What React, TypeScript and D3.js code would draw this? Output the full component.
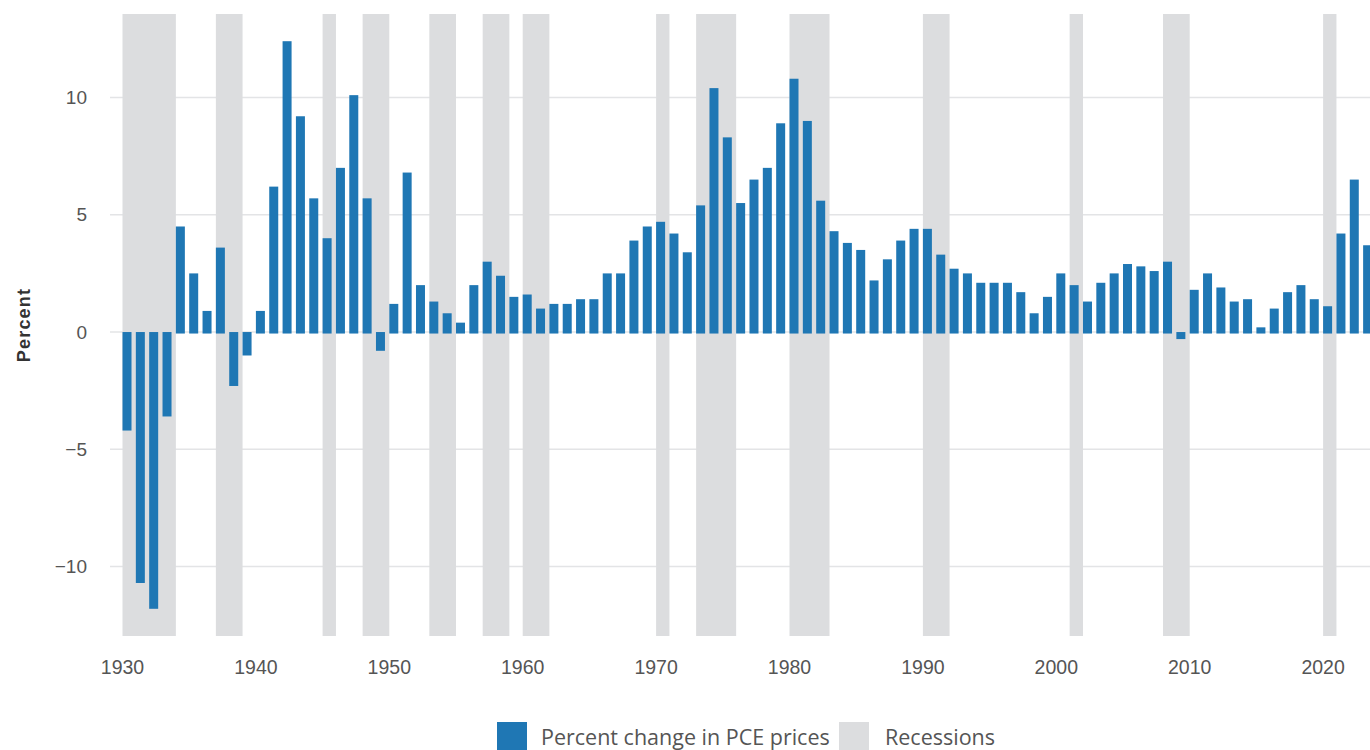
import React from "react";
import * as d3 from "d3";

const years: number[] = d3.range(1930, 2024);
const pceChange: number[] = [
  -4.2, -10.7, -11.8, -3.6, 4.5, 2.5, 0.9, 3.6, -2.3, -1.0,
  0.9, 6.2, 12.4, 9.2, 5.7, 4.0, 7.0, 10.1, 5.7, -0.8,
  1.2, 6.8, 2.0, 1.3, 0.8, 0.4, 2.0, 3.0, 2.4, 1.5,
  1.6, 1.0, 1.2, 1.2, 1.4, 1.4, 2.5, 2.5, 3.9, 4.5,
  4.7, 4.2, 3.4, 5.4, 10.4, 8.3, 5.5, 6.5, 7.0, 8.9,
  10.8, 9.0, 5.6, 4.3, 3.8, 3.5, 2.2, 3.1, 3.9, 4.4,
  4.4, 3.3, 2.7, 2.5, 2.1, 2.1, 2.1, 1.7, 0.8, 1.5,
  2.5, 2.0, 1.3, 2.1, 2.5, 2.9, 2.8, 2.6, 3.0, -0.3,
  1.8, 2.5, 1.9, 1.3, 1.4, 0.2, 1.0, 1.7, 2.0, 1.4,
  1.1, 4.2, 6.5, 3.7,
];
const recessionStart: number[] = [1930, 1937, 1945, 1948, 1953, 1957, 1960, 1970, 1973, 1980, 1990, 2001, 2008, 2020];
const recessionEnd: number[] = [1934, 1939, 1946, 1950, 1955, 1959, 1962, 1971, 1976, 1983, 1992, 2002, 2010, 2021];
const xTicks: number[] = d3.range(1930, 2021, 10);
const yTicks: number[] = [-10, -5, 0, 5, 10];
const yTitle = "Percent";
const legendLabels: string[] = ["Percent change in PCE prices", "Recessions"];

const W = 1370;
const H = 750;
const BLUE = "#1f77b4";
const GREY = "#dcdddf";

export default function App() {
  const x = d3.scaleLinear().domain([1930, 2020]).range([122.5, 1323.1]);
  const y = d3.scaleLinear().domain([-12.96, 13.56]).range([636, 14]);
  const barW = 9;
  const y0 = y(0);

  return (
    <svg
      width={W}
      height={H}
      viewBox={`0 0 ${W} ${H}`}
      style={{ position: "absolute", left: 0, top: 0, background: "#fff" }}
    >
      {/* gridlines */}
      {yTicks.map((t) => (
        <line key={"g" + t} x1={110} x2={W} y1={y(t)} y2={y(t)} stroke="#e3e4e6" strokeWidth={1.5} />
      ))}
      {/* recessions */}
      {recessionStart.map((s, i) => (
        <rect
          key={"r" + s}
          x={x(s)}
          y={y(13.56)}
          width={x(recessionEnd[i]) - x(s)}
          height={y(-12.96) - y(13.56)}
          fill={GREY}
        />
      ))}
      {/* bars */}
      {years.map((yr, i) => {
        const v = pceChange[i];
        const top = v >= 0 ? y(v) : y0;
        const bottom = v >= 0 ? y0 + 1.5 : y(v);
        return (
          <rect
            key={"b" + yr}
            x={x(yr)}
            y={top}
            width={barW}
            height={Math.max(1, bottom - top)}
            fill={BLUE}
          />
        );
      })}
      {/* y tick labels */}
      {yTicks.map((t) => (
        <text
          key={"yl" + t}
          x={87}
          y={y(t)}
          dy="0.35em"
          textAnchor="end"
          fontFamily="'Liberation Sans', Arial, sans-serif"
          fontSize={19}
          fill="#555"
        >
          {t < 0 ? "\u2212" + Math.abs(t) : String(t)}
        </text>
      ))}
      {/* x tick labels */}
      {xTicks.map((t) => (
        <text
          key={"xl" + t}
          x={x(t)}
          y={674}
          textAnchor="middle"
          fontFamily="'Liberation Sans', Arial, sans-serif"
          fontSize={19.5}
          fill="#555"
        >
          {t}
        </text>
      ))}
      {/* y title */}
      <text
        transform={`translate(30,325) rotate(-90)`}
        textAnchor="middle"
        fontFamily="'Liberation Sans', Arial, sans-serif"
        fontWeight="bold"
        fontSize={18}
        letterSpacing={1.2}
        fill="#333"
      >
        {yTitle}
      </text>
      {/* legend */}
      <rect x={497} y={722} width={30} height={30} fill={BLUE} />
      <text x={541} y={745} fontFamily="'Open Sans', sans-serif" fontSize={21.5} fill="#555">
        {legendLabels[0]}
      </text>
      <rect x={839} y={722} width={30} height={30} fill={GREY} />
      <text x={885} y={745} fontFamily="'Open Sans', sans-serif" fontSize={21.5} fill="#555">
        {legendLabels[1]}
      </text>
    </svg>
  );
}
